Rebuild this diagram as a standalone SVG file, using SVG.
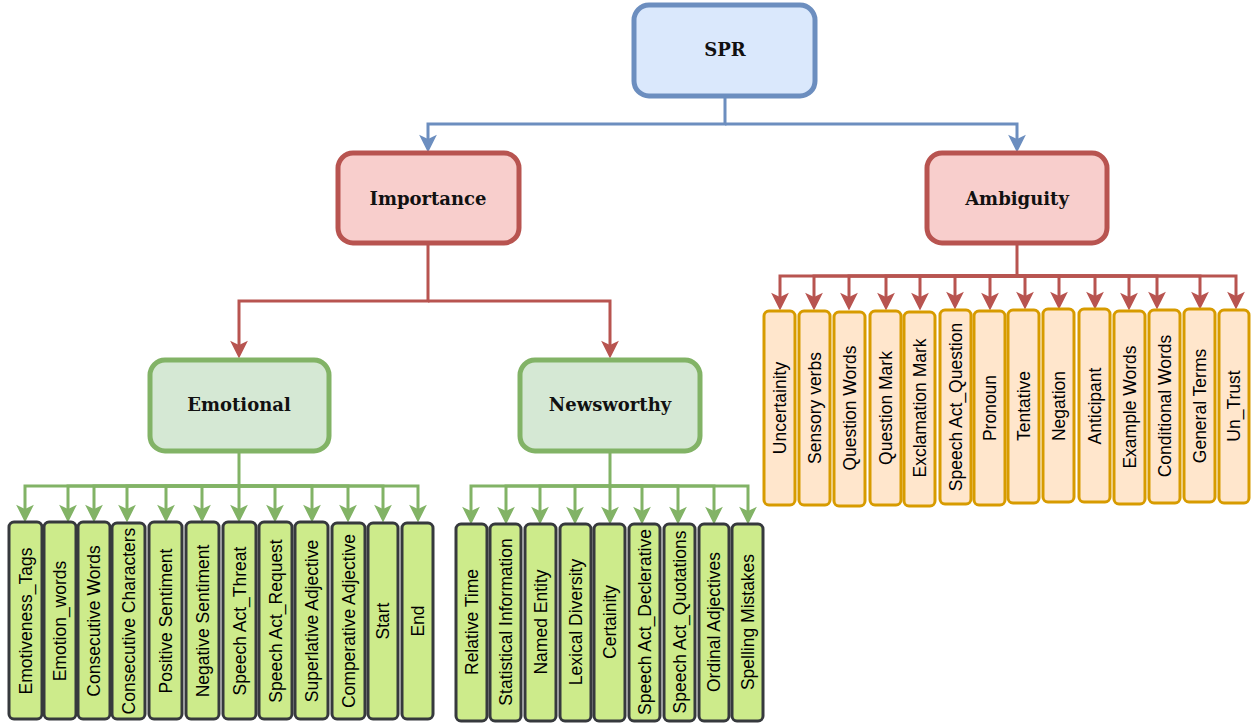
<svg xmlns="http://www.w3.org/2000/svg" width="1257" height="724" viewBox="0 0 1257 724">
<style>
.main{stroke-width:5}
.blue{fill:#dae8fc;stroke:#6c8ebf}
.red{fill:#f8cecc;stroke:#b85450}
.grn{fill:#d5e8d4;stroke:#82b366}
.leafg{fill:#cdeb8b;stroke:#36393d;stroke-width:3}
.leafo{fill:#ffe6cc;stroke:#d79b00;stroke-width:3}
.ht{font-family:"DejaVu Serif","Liberation Serif",serif;font-weight:bold;font-size:18px;text-anchor:middle;fill:#111}
.lt{font-family:"Liberation Sans",Arial,sans-serif;font-size:17.5px;text-anchor:middle;fill:#000}
.c{fill:none;stroke-width:3}
.cb{stroke:#6c8ebf}
.cr{stroke:#b85450}
.cg{stroke:#82b366}
</style>
<defs>
<marker id="ab" markerUnits="userSpaceOnUse" markerWidth="20" markerHeight="20" viewBox="0 -9 16 18" refX="12" refY="0" orient="auto"><path d="M0,-8 L16,0 L0,8 L4,0 Z" fill="#6c8ebf"/></marker>
<marker id="ar" markerUnits="userSpaceOnUse" markerWidth="20" markerHeight="20" viewBox="0 -9 16 18" refX="12" refY="0" orient="auto"><path d="M0,-8 L16,0 L0,8 L4,0 Z" fill="#b85450"/></marker>
<marker id="ag" markerUnits="userSpaceOnUse" markerWidth="20" markerHeight="20" viewBox="0 -9 16 18" refX="12" refY="0" orient="auto"><path d="M0,-8 L16,0 L0,8 L4,0 Z" fill="#82b366"/></marker>
</defs>

<g id="connectors">
<path class="c cb" d="M725,97 V124 H428 V148" marker-end="url(#ab)"/>
<path class="c cb" d="M725,124 H1017 V148" marker-end="url(#ab)"/>
<path class="c cr" d="M428,245 V301 H239 V354" marker-end="url(#ar)"/>
<path class="c cr" d="M428,301 H610 V354" marker-end="url(#ar)"/>
<g class="c cr" marker-end="url(#ar)">
<path d="M1017,245 V276 H780 V306"/>
<path d="M1017,276 H814 V306"/>
<path d="M1017,276 H849 V306"/>
<path d="M1017,276 H886 V306"/>
<path d="M1017,276 H920 V306"/>
<path d="M1017,276 H955 V305"/>
<path d="M1017,276 H990 V306"/>
<path d="M1017,276 H1025 V305"/>
<path d="M1017,276 H1059 V305"/>
<path d="M1017,276 H1095 V305"/>
<path d="M1017,276 H1129 V306"/>
<path d="M1017,276 H1157 V305"/>
<path d="M1017,276 H1200 V305"/>
<path d="M1017,276 H1236 V305"/>
</g>
<g class="c cg" marker-end="url(#ag)">
<path d="M239,452 V486 H25 V518"/>
<path d="M239,486 H68 V518"/>
<path d="M239,486 H94 V518"/>
<path d="M239,486 H127 V518"/>
<path d="M239,486 H166 V518"/>
<path d="M239,486 H202 V518"/>
<path d="M239,486 V518"/>
<path d="M239,486 H275 V518"/>
<path d="M239,486 H312 V518"/>
<path d="M239,486 H348 V518"/>
<path d="M239,486 H383 V518"/>
<path d="M239,486 H418 V518"/>
<path d="M610,452 V486 H471 V520"/>
<path d="M610,486 H506 V520"/>
<path d="M610,486 H540 V520"/>
<path d="M610,486 H575 V520"/>
<path d="M610,486 V520"/>
<path d="M610,486 H642 V520"/>
<path d="M610,486 H678 V520"/>
<path d="M610,486 H714 V520"/>
<path d="M610,486 H748 V520"/>
</g>
</g>

<g id="spr"><rect class="main blue" x="634" y="5" width="181" height="91" rx="15"/><text class="ht" x="725" y="56">SPR</text></g>
<g id="importance"><rect class="main red" x="338" y="153" width="181" height="90" rx="15"/><text class="ht" x="428" y="205">Importance</text></g>
<g id="ambiguity"><rect class="main red" x="927" y="153" width="180" height="90" rx="15"/><text class="ht" x="1017" y="205">Ambiguity</text></g>
<g id="emotional"><rect class="main grn" x="150" y="360" width="179" height="91" rx="15"/><text class="ht" x="239" y="411">Emotional</text></g>
<g id="newsworthy"><rect class="main grn" x="520" y="360" width="180" height="91" rx="15"/><text class="ht" x="610" y="411">Newsworthy</text></g>

<g id="emo-1"><rect class="leafg" x="9" y="522" width="33" height="197" rx="5"/><text class="lt" transform="translate(25.5,621) rotate(-90)" y="6">Emotiveness_Tags</text></g>
<g id="emo-2"><rect class="leafg" x="44" y="522" width="32" height="197" rx="5"/><text class="lt" transform="translate(60,621) rotate(-90)" y="6">Emotion_words</text></g>
<g id="emo-3"><rect class="leafg" x="78" y="522" width="32" height="197" rx="5"/><text class="lt" transform="translate(94,621) rotate(-90)" y="6">Consecutive Words</text></g>
<g id="emo-4"><rect class="leafg" x="112" y="523" width="33" height="196" rx="5"/><text class="lt" transform="translate(128.5,621) rotate(-90)" y="6">Consecutive Characters</text></g>
<g id="emo-5"><rect class="leafg" x="149" y="522" width="33" height="197" rx="5"/><text class="lt" transform="translate(165.5,621) rotate(-90)" y="6">Positive Sentiment</text></g>
<g id="emo-6"><rect class="leafg" x="186" y="522" width="33" height="197" rx="5"/><text class="lt" transform="translate(202.5,621) rotate(-90)" y="6">Negative Sentiment</text></g>
<g id="emo-7"><rect class="leafg" x="223" y="522" width="33" height="197" rx="5"/><text class="lt" transform="translate(239.5,621) rotate(-90)" y="6">Speech Act_Threat</text></g>
<g id="emo-8"><rect class="leafg" x="259" y="522" width="33" height="197" rx="5"/><text class="lt" transform="translate(275.5,621) rotate(-90)" y="6">Speech Act_Request</text></g>
<g id="emo-9"><rect class="leafg" x="295" y="522" width="33" height="197" rx="5"/><text class="lt" transform="translate(311.5,621) rotate(-90)" y="6">Superlative Adjective</text></g>
<g id="emo-10"><rect class="leafg" x="332" y="523" width="33" height="196" rx="5"/><text class="lt" transform="translate(348.5,621) rotate(-90)" y="6">Comperative Adjective</text></g>
<g id="emo-11"><rect class="leafg" x="368" y="523" width="30" height="196" rx="5"/><text class="lt" transform="translate(383,621) rotate(-90)" y="6">Start</text></g>
<g id="emo-12"><rect class="leafg" x="402" y="523" width="31" height="196" rx="5"/><text class="lt" transform="translate(417.5,621) rotate(-90)" y="6">End</text></g>

<g id="news-1"><rect class="leafg" x="456" y="524" width="31" height="197" rx="5"/><text class="lt" transform="translate(471.5,622) rotate(-90)" y="6">Relative Time</text></g>
<g id="news-2"><rect class="leafg" x="490" y="524" width="31" height="197" rx="5"/><text class="lt" transform="translate(505.5,622) rotate(-90)" y="6">Statistical Information</text></g>
<g id="news-3"><rect class="leafg" x="525" y="524" width="31" height="197" rx="5"/><text class="lt" transform="translate(540.5,622) rotate(-90)" y="6">Named Entity</text></g>
<g id="news-4"><rect class="leafg" x="560" y="524" width="31" height="197" rx="5"/><text class="lt" transform="translate(575.5,622) rotate(-90)" y="6">Lexical Diversity</text></g>
<g id="news-5"><rect class="leafg" x="594" y="524" width="31" height="197" rx="5"/><text class="lt" transform="translate(609.5,622) rotate(-90)" y="6">Certainity</text></g>
<g id="news-6"><rect class="leafg" x="629" y="524" width="31" height="197" rx="5"/><text class="lt" transform="translate(644.5,622) rotate(-90)" y="6">Speech Act_Declerative</text></g>
<g id="news-7"><rect class="leafg" x="664" y="524" width="31" height="197" rx="5"/><text class="lt" transform="translate(679.5,622) rotate(-90)" y="6">Speech Act_Quotations</text></g>
<g id="news-8"><rect class="leafg" x="699" y="524" width="30" height="197" rx="5"/><text class="lt" transform="translate(714,622) rotate(-90)" y="6">Ordinal Adjectives</text></g>
<g id="news-9"><rect class="leafg" x="732" y="524" width="31" height="197" rx="5"/><text class="lt" transform="translate(747.5,622) rotate(-90)" y="6">Spelling Mistakes</text></g>

<g id="amb-1"><rect class="leafo" x="764" y="311" width="31" height="194" rx="5"/><text class="lt" transform="translate(779.5,408) rotate(-90)" y="6">Uncertainity</text></g>
<g id="amb-2"><rect class="leafo" x="799" y="311" width="31" height="194" rx="5"/><text class="lt" transform="translate(814.5,408) rotate(-90)" y="6">Sensory verbs</text></g>
<g id="amb-3"><rect class="leafo" x="834" y="312" width="31" height="194" rx="5"/><text class="lt" transform="translate(849.5,408) rotate(-90)" y="6">Question Words</text></g>
<g id="amb-4"><rect class="leafo" x="870" y="311" width="31" height="194" rx="5"/><text class="lt" transform="translate(885.5,408) rotate(-90)" y="6">Question Mark</text></g>
<g id="amb-5"><rect class="leafo" x="904" y="312" width="31" height="194" rx="5"/><text class="lt" transform="translate(919.5,408) rotate(-90)" y="6">Exclamation Mark</text></g>
<g id="amb-6"><rect class="leafo" x="940" y="310" width="31" height="194" rx="5"/><text class="lt" transform="translate(955.5,407) rotate(-90)" y="6">Speech Act_Question</text></g>
<g id="amb-7"><rect class="leafo" x="974" y="311" width="31" height="194" rx="5"/><text class="lt" transform="translate(989.5,408) rotate(-90)" y="6">Pronoun</text></g>
<g id="amb-8"><rect class="leafo" x="1008" y="310" width="31" height="193" rx="5"/><text class="lt" transform="translate(1023.5,406) rotate(-90)" y="6">Tentative</text></g>
<g id="amb-9"><rect class="leafo" x="1043" y="309" width="31" height="193" rx="5"/><text class="lt" transform="translate(1058.5,406) rotate(-90)" y="6">Negation</text></g>
<g id="amb-10"><rect class="leafo" x="1079" y="309" width="31" height="193" rx="5"/><text class="lt" transform="translate(1094.5,406) rotate(-90)" y="6">Anticipant</text></g>
<g id="amb-11"><rect class="leafo" x="1114" y="311" width="31" height="193" rx="5"/><text class="lt" transform="translate(1129.5,407) rotate(-90)" y="6">Example Words</text></g>
<g id="amb-12"><rect class="leafo" x="1149" y="310" width="31" height="193" rx="5"/><text class="lt" transform="translate(1164.5,406) rotate(-90)" y="6">Conditional Words</text></g>
<g id="amb-13"><rect class="leafo" x="1184" y="309" width="31" height="193" rx="5"/><text class="lt" transform="translate(1199.5,406) rotate(-90)" y="6">General Terms</text></g>
<g id="amb-14"><rect class="leafo" x="1219" y="310" width="30" height="193" rx="5"/><text class="lt" transform="translate(1234,406) rotate(-90)" y="6">Un_Trust</text></g>
</svg>
